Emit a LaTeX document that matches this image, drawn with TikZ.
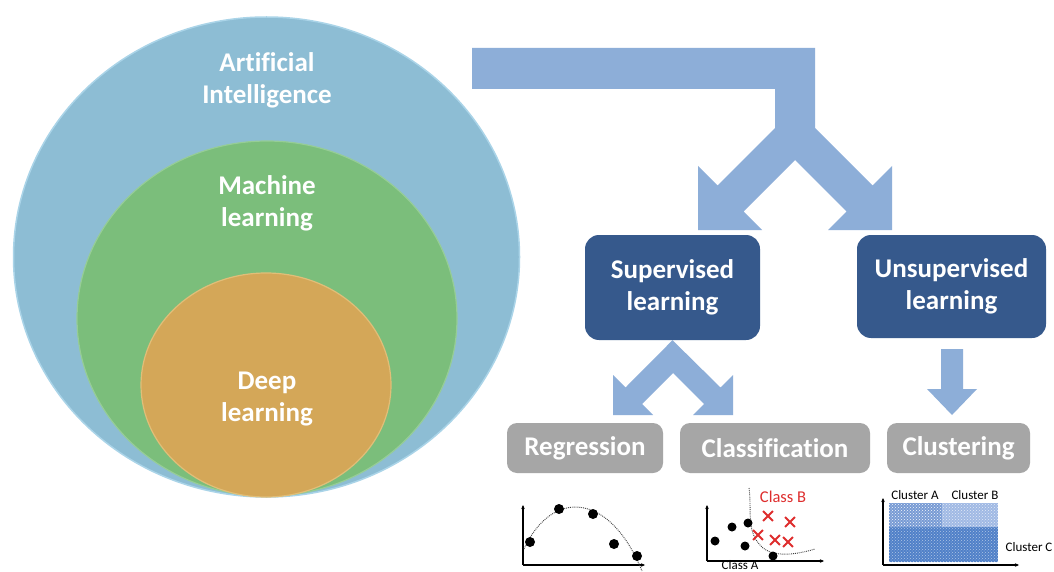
\documentclass[tikz,border=0pt]{standalone}
\usepackage{fontspec}
\setmainfont{Carlito}[Ligatures=NoCommon]
\usetikzlibrary{arrows.meta,patterns,shapes.misc}
\definecolor{cAI}{RGB}{141,189,212}
\definecolor{cAIedge}{RGB}{170,212,232}
\definecolor{cML}{RGB}{123,190,123}
\definecolor{cMLedge}{RGB}{150,205,150}
\definecolor{cDL}{RGB}{212,167,88}
\definecolor{cDLedge}{RGB}{225,190,120}
\definecolor{cArrow}{RGB}{141,174,216}
\definecolor{cDark}{RGB}{54,89,140}
\definecolor{cGray}{RGB}{166,166,166}
\definecolor{cRed}{RGB}{222,45,45}
\definecolor{cClA}{RGB}{120,155,212}
\definecolor{cClB}{RGB}{160,185,228}
\definecolor{cClC}{RGB}{80,128,200}
\begin{document}
\begin{tikzpicture}[x=1pt,y=-1pt,
  bigfont/.style={font=\bfseries\fontsize{27}{32}\selectfont},
  circtext/.style={bigfont,text=white,align=center},
  darkboxstyle/.style={bigfont,fill=cDark,rounded corners=14,text=white,align=center,inner sep=0},
  grayboxstyle/.style={bigfont,fill=cGray,rounded corners=10,text=white,inner sep=0,minimum height=50},
  blockarrow/.style={fill=cArrow},
  axisline/.style={line width=1.2,-{Stealth[length=4pt,width=3.5pt]}},
  blackdot/.style={circle,fill=black,inner sep=0,minimum size=10},
  smalldot/.style={circle,fill=black,inner sep=0,minimum size=9},
  redcross/.style={cross out,draw=cRed,line width=1.8,inner sep=0,minimum size=8},
  boundary/.style={densely dotted,line width=0.9,black!75},
  smalllabel/.style={font=\fontsize{13}{15}\selectfont,inner sep=0},
  classlabel/.style={font=\fontsize{16.5}{19}\selectfont,inner sep=0}]
\useasboundingbox (0,0) rectangle (1054,572);
\fill[white] (0,0) rectangle (1054,572);

% nested circles
\filldraw[fill=cAI,draw=cAIedge,line width=1.5] (266.5,257) ellipse [x radius=253,y radius=240];
\filldraw[fill=cML,draw=cMLedge,line width=1.2] (267,318.5) ellipse [x radius=190,y radius=177.5];
\filldraw[fill=cDL,draw=cDLedge,line width=1.2] (266,385) ellipse [x radius=125,y radius=112];
\node[circtext] (ai) at (267,80) {Artificial\\Intelligence};
\node[circtext] (ml) at (267,203) {Machine\\learning};
\node[circtext] (dl) at (267,399) {Deep\\learning};

% boxes
\node[darkboxstyle,minimum width=175,minimum height=105] (sup) at (672.5,287.5) {Supervised\\learning};
\node[darkboxstyle,minimum width=189,minimum height=103] (unsup) at (951.5,286.5) {Unsupervised\\learning};
\node[grayboxstyle,minimum width=156] (reg) at (585,448) {Regression};
\node[grayboxstyle,minimum width=190] (cls) at (775,448) {Classification};
\node[grayboxstyle,minimum width=143] (clu) at (958.5,448) {Clustering};

% big forked arrow
\fill[blockarrow] (472,48) -- (815,48) -- (815,128) -- (872.5,185.5) -- (892,166) -- (892,230) -- (828,230) -- (846.5,211.5) -- (795,160) -- (743.5,211.5) -- (762,230) -- (698,230) -- (698,166) -- (717.5,185.5) -- (775,128) -- (775,89) -- (472,89) -- cycle;
% small forked arrow below Supervised
\fill[blockarrow] (sup.south) -- (720.5,387.5) -- (733,375) -- (733,415) -- (693,415) -- (704,404) -- (673,373) -- (642,404) -- (653,415) -- (613,415) -- (613,375) -- (625.5,387.5) -- cycle;
% down arrow below Unsupervised
\fill[blockarrow] (941,349) -- (963,349) -- (963,389) -- (977,389) -- (952,415) -- (927,389) -- (941,389) -- cycle;

% regression plot
\coordinate (rO) at (523,565);
\coordinate (rY) at (523,505);
\coordinate (rX) at (645,565);
\draw[axisline] (rO) -- (rY);
\draw[axisline] (rO) -- (rX);
\draw[boundary] (524,549) .. controls (552,488) and (610,492) .. (642,571);
\foreach \px/\py [count=\i] in {530/542,559/509,593/514,614/544,637/556}
  \node[blackdot] (rp\i) at (\px,\py) {};

% classification plot
\coordinate (cO) at (707,561);
\coordinate (cY) at (707,505);
\coordinate (cX) at (824,561);
\draw[axisline] (cO) -- (cY);
\draw[axisline] (cO) -- (cX);
\draw[boundary] (749,488) .. controls (752,510) and (746,530) .. (760,545) .. controls (770,557) and (792,556) .. (815,549);
\foreach \px/\py [count=\i] in {715/541,732/527,748/523,745/546,773/556}
  \node[smalldot] (cp\i) at (\px,\py) {};
\foreach \px/\py [count=\i] in {768/516,790/522,758/535,775/540,788/542}
  \node[redcross] (cx\i) at (\px,\py) {};
\node[classlabel,text=cRed] (classB) at (783,497) {Class B};
\node[font=\fontsize{13}{15}\selectfont,inner sep=0,anchor=base] (classA) at (740,569.5) {Class A};

% clustering plot
\fill[cClA] (889,503) rectangle (942,527);
\fill[cClB] (942,503) rectangle (998,527);
\fill[cClC] (889,527) rectangle (998,562);
\fill[pattern=crosshatch dots,pattern color=white!92!cClA] (889,503) rectangle (942,527);
\fill[pattern=crosshatch dots,pattern color=white!70!cClB] (942,503) rectangle (998,527);
\fill[pattern=crosshatch dots,pattern color=white!55!cClC] (889,527) rectangle (998,562);
\coordinate (kO) at (883,565);
\coordinate (kY) at (883,498);
\coordinate (kX) at (1019,565);
\draw[axisline] (kO) -- (kY);
\draw[axisline] (kO) -- (kX);
\node[smalllabel] (clA) at (915,495) {Cluster A};
\node[smalllabel] (clB) at (975,495) {Cluster B};
\node[smalllabel] (clC) at (1029,547) {Cluster C};
\end{tikzpicture}
\end{document}
